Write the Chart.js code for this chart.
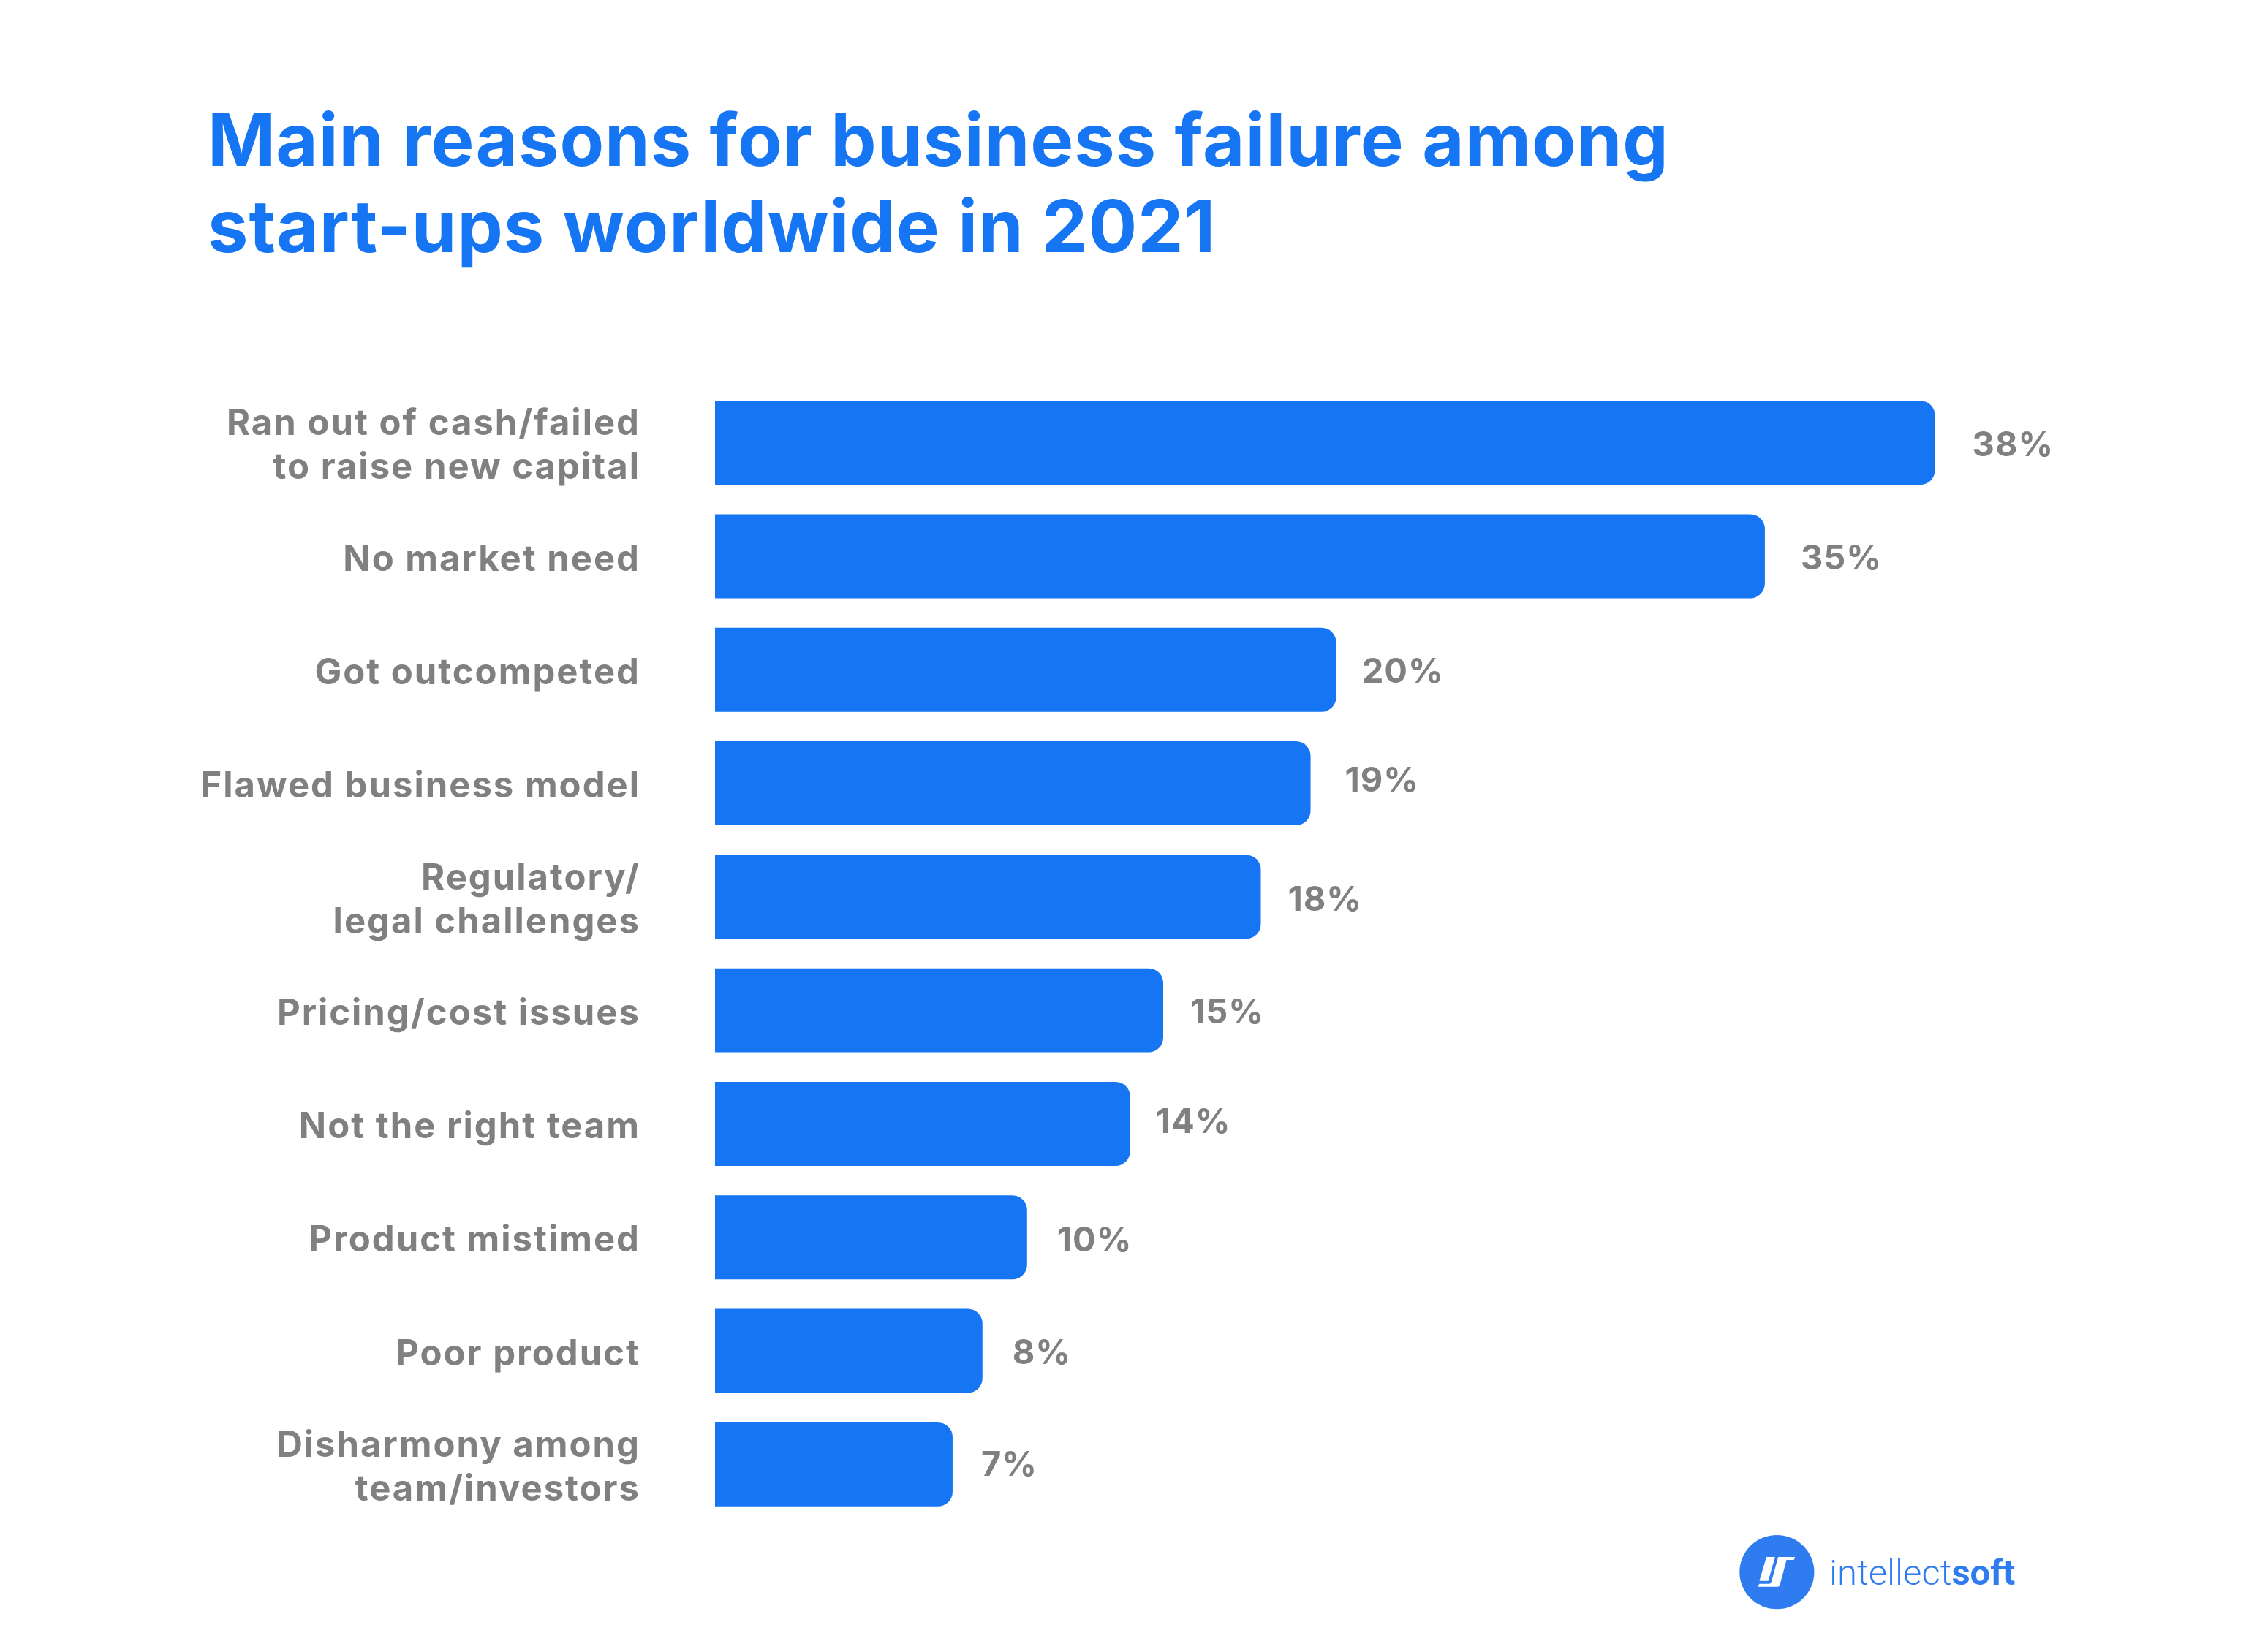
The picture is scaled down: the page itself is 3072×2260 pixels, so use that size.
<!DOCTYPE html>
<html>
<head>
<meta charset="utf-8">
<title>Main reasons for business failure</title>
<script src="https://cdn.jsdelivr.net/npm/chart.js@4"></script>
<style>
  html, body { margin: 0; background: #fff; }
  #wrap { position: relative; width: 3072px; height: 2260px; overflow: hidden; }
  canvas { position: absolute; left: 0; top: 0; }
  h1 {
    position: absolute; left: 284px; top: 132px; margin: 0;
    font: 700 99px/118px Inter, sans-serif; letter-spacing: 1px;
    color: #1675f3; white-space: nowrap;
  }
  #logoMark { position: absolute; left: 2300px; top: 2060px; }
  #logoText {
    position: absolute; left: 2502px; top: 2122px;
    font: 300 49px/60px Roboto, sans-serif; color: #2f7cf1; white-space: nowrap;
  }
  #logoText b { font-weight: 700; }
</style>
</head>
<body>
<div id="wrap">
  <canvas id="chart" width="3072" height="2260"></canvas>
  <h1>Main reasons for business failure among<br>start-ups worldwide in 2021</h1>
  <svg id="logoMark" width="560" height="180" viewBox="0 0 1568 540" preserveAspectRatio="none">
    <ellipse cx="365" cy="272" rx="143" ry="152" fill="#2f7cf1"/>
    <path d="M325 210H358L332 308H298Z" fill="#fff"/>
    <path d="M370 210H435L430 222H402L376 326Q374 332 368 332H292L298 320H336Q342 320 344 312Z" fill="#fff"/>
  </svg>
  <div id="logoText">intellect<b>soft</b></div>
</div>
<script>
const categories = [
  ['Ran out of cash/failed', 'to raise new capital'],
  'No market need',
  'Got outcompeted',
  'Flawed business model',
  ['Regulatory/', 'legal challenges'],
  'Pricing/cost issues',
  'Not the right team',
  'Product mistimed',
  'Poor product',
  ['Disharmony among', 'team/investors']
];

// the bars in the picture are not quite in proportion to their printed numbers,
// so lengths and printed labels are read off separately
const barLengths = [38, 32.7, 19.35, 18.55, 17, 13.96, 12.93, 9.72, 8.33, 7.4];
const printedLabels = ['38%', '35%', '20%', '19%', '18%', '15%', '14%', '10%', '8%', '7%'];

// label placement by hand, same as the source picture
const labelGap = [51, 49, 35, 47, 37, 37, 35, 41, 41, 39];
const labelShift = [4, 4, 4, -3, 5, 4, -2, 5, 4, 2];

const grey = '#808080';
const blue = '#1675f3';
const labelFont = "700 47px Inter, sans-serif";

const valueLabels = {
  id: 'valueLabels',
  beforeDraw(chart) {
    chart.ctx.letterSpacing = '2px';
  },
  afterDatasetsDraw(chart) {
    const ctx = chart.ctx;
    const bars = chart.getDatasetMeta(0).data;
    ctx.save();
    ctx.font = labelFont;
    ctx.letterSpacing = '1px';
    ctx.fillStyle = grey;
    ctx.textAlign = 'left';
    ctx.textBaseline = 'middle';
    bars.forEach((bar, i) => {
      ctx.fillText(printedLabels[i], bar.x + labelGap[i], bar.y + labelShift[i]);
    });
    ctx.restore();
  }
};

new Chart(document.getElementById('chart'), {
  type: 'bar',
  plugins: [valueLabels],
  data: {
    labels: categories,
    datasets: [{
      data: barLengths,
      backgroundColor: blue,
      borderRadius: { topRight: 20, bottomRight: 20 },
      borderSkipped: false,
      categoryPercentage: 1,
      barPercentage: 0.74
    }]
  },
  options: {
    indexAxis: 'y',
    responsive: false,
    animation: false,
    devicePixelRatio: 1,
    layout: { padding: { top: 528, bottom: 179, left: 0, right: 118 } },
    plugins: {
      legend: { display: false },
      tooltip: { enabled: false }
    },
    scales: {
      x: { display: false, min: 0, max: 45 },
      y: {
        afterFit(scale) { scale.width = 978; },
        border: { display: false },
        grid: { display: false, drawTicks: false },
        ticks: {
          autoSkip: false,
          padding: 102,
          labelOffset: 5,
          color: grey,
          font: { family: 'Inter, sans-serif', size: 49, weight: '700', lineHeight: 1.224 }
        }
      }
    }
  }
});
</script>
</body>
</html>
